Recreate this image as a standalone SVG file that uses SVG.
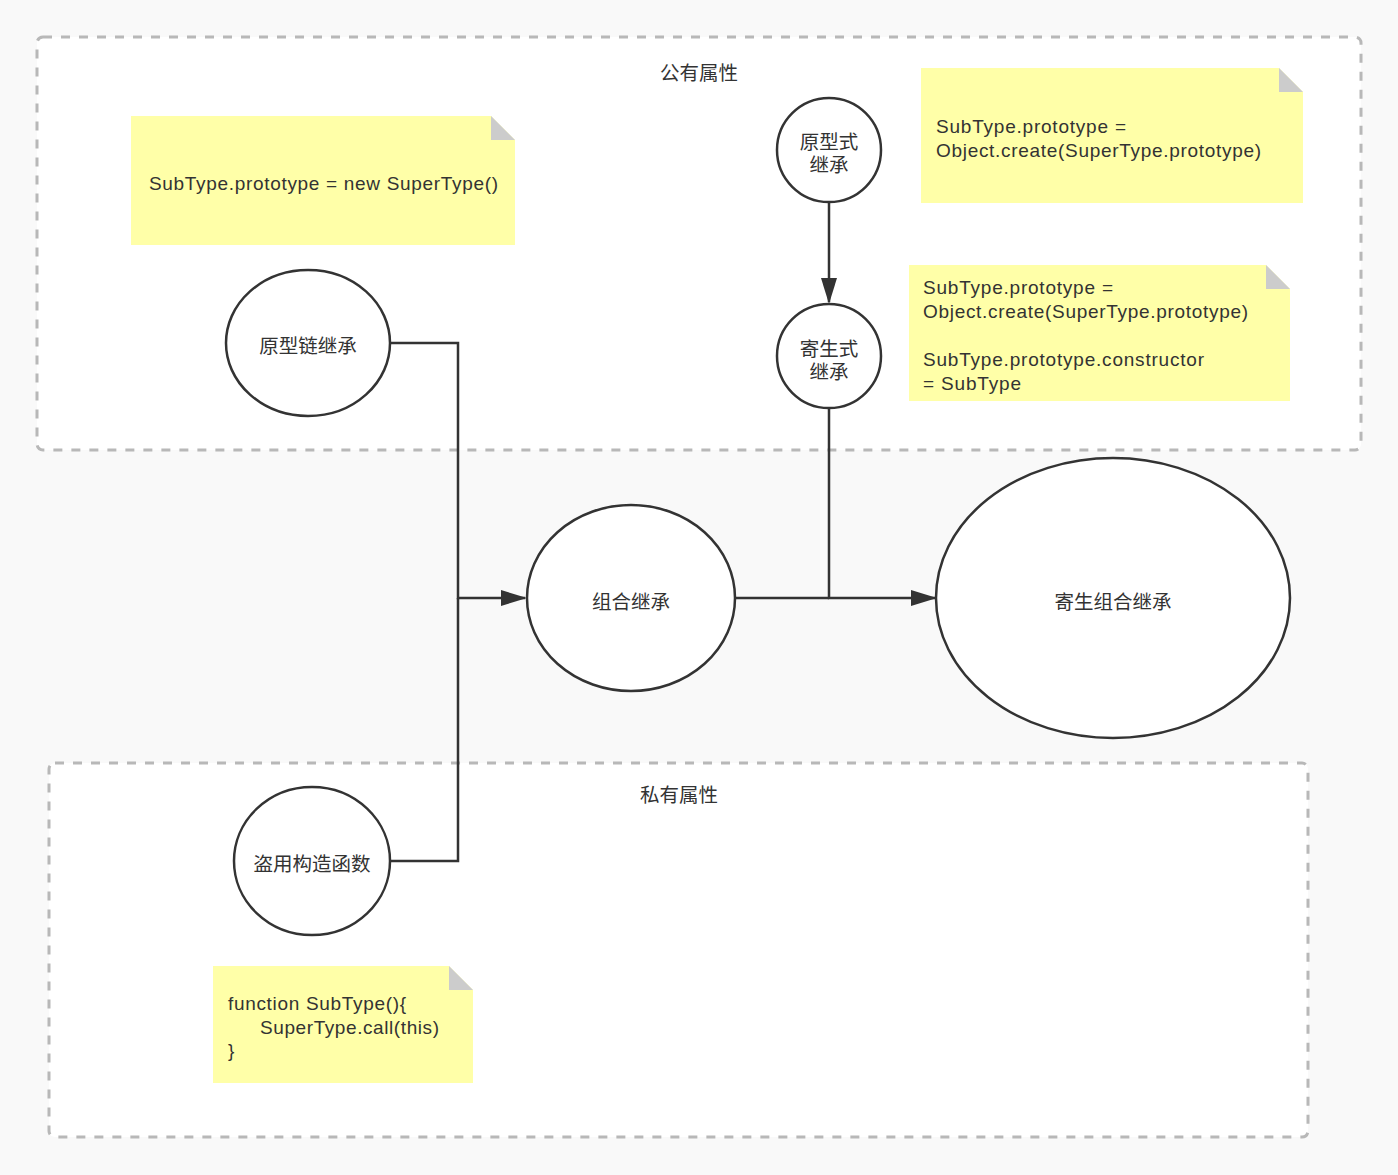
<svg xmlns="http://www.w3.org/2000/svg" width="1398" height="1175" viewBox="0 0 1398 1175">
<defs>
<style>
.cont{fill:#ffffff;stroke:#b8b8b8;stroke-width:3;stroke-dasharray:9 9}
.node{fill:#ffffff;stroke:#333333;stroke-width:2.5}
.note{fill:#ffffa8}
.fold{fill:#cccccc}
.lbl{font-family:"Noto Sans CJK SC","Liberation Sans",sans-serif;font-size:19.5px;fill:#333333;text-anchor:middle;dominant-baseline:central}
.nt{font-family:"Liberation Sans","Noto Sans CJK SC",sans-serif;font-size:19px;fill:#333333}
.edge{fill:none;stroke:#333333;stroke-width:2.5}
</style>
<marker id="arrL" markerWidth="26" markerHeight="16" refX="24" refY="8" orient="auto" markerUnits="userSpaceOnUse" viewBox="0 0 26 16">
<path d="M0,0 L26,8 L0,16 Z" fill="#333333"/>
</marker>
</defs>
<rect x="0" y="0" width="1398" height="1175" fill="#f9f9f9"/>

<g id="public-group">
<rect class="cont" x="37" y="37" width="1324" height="413" rx="6"/>
<text class="lbl" x="699" y="71">公有属性</text>
</g>
<g id="private-group">
<rect class="cont" x="49" y="763" width="1259" height="374" rx="6"/>
<text class="lbl" x="679" y="793">私有属性</text>
</g>

<g id="note-proto-chain">
<path class="note" d="M131,116 H491 L515,140 V245 H131 Z"/>
<path class="fold" d="M491,116 L515,140 H491 Z"/>
<text class="nt" x="149" y="190" textLength="349" lengthAdjust="spacing">SubType.prototype = new SuperType()</text>
</g>
<g id="note-prototypal">
<path class="note" d="M921,68 H1279 L1303,92 V203 H921 Z"/>
<path class="fold" d="M1279,68 L1303,92 H1279 Z"/>
<text class="nt" x="936" y="133" textLength="190" lengthAdjust="spacing">SubType.prototype =</text>
<text class="nt" x="936" y="157" textLength="325" lengthAdjust="spacing">Object.create(SuperType.prototype)</text>
</g>
<g id="note-parasitic">
<path class="note" d="M909,265 H1266 L1290,289 V401 H909 Z"/>
<path class="fold" d="M1266,265 L1290,289 H1266 Z"/>
<text class="nt" x="923" y="294" textLength="190" lengthAdjust="spacing">SubType.prototype =</text>
<text class="nt" x="923" y="318" textLength="325" lengthAdjust="spacing">Object.create(SuperType.prototype)</text>
<text class="nt" x="923" y="366" textLength="281" lengthAdjust="spacing">SubType.prototype.constructor</text>
<text class="nt" x="923" y="390" textLength="98" lengthAdjust="spacing">= SubType</text>
</g>
<g id="note-constructor">
<path class="note" d="M213,966 H449 L473,990 V1083 H213 Z"/>
<path class="fold" d="M449,966 L473,990 H449 Z"/>
<text class="nt" x="228" y="1010" textLength="178" lengthAdjust="spacing">function SubType(){</text>
<text class="nt" x="260" y="1034" textLength="179" lengthAdjust="spacing">SuperType.call(this)</text>
<text class="nt" x="228" y="1057">}</text>
</g>

<g id="connectors">
<path class="edge" d="M390,343 H458 V598 H525" marker-end="url(#arrL)"/>
<path class="edge" d="M390,861 H458 V598"/>
<path class="edge" d="M829,202 V302" marker-end="url(#arrL)"/>
<path class="edge" d="M829,408 V598 H935" marker-end="url(#arrL)"/>
<path class="edge" d="M735,598 H829"/>
</g>

<g id="node-proto-chain">
<ellipse class="node" cx="308" cy="343" rx="82" ry="73"/>
<text class="lbl" x="308" y="344">原型链继承</text>
</g>
<g id="node-prototypal">
<ellipse class="node" cx="829" cy="150" rx="52" ry="52"/>
<text class="lbl" x="829" y="140"><tspan x="829" y="140">原型式</tspan><tspan x="829" y="163">继承</tspan></text>
</g>
<g id="node-parasitic">
<ellipse class="node" cx="829" cy="356" rx="52" ry="52"/>
<text class="lbl" x="829" y="347"><tspan x="829" y="347">寄生式</tspan><tspan x="829" y="370">继承</tspan></text>
</g>
<g id="node-combination">
<ellipse class="node" cx="631" cy="598" rx="104" ry="93"/>
<text class="lbl" x="631" y="600">组合继承</text>
</g>
<g id="node-parasitic-combination">
<ellipse class="node" cx="1113" cy="598" rx="177" ry="140"/>
<text class="lbl" x="1113" y="600">寄生组合继承</text>
</g>
<g id="node-constructor-stealing">
<ellipse class="node" cx="312" cy="861" rx="78" ry="74"/>
<text class="lbl" x="312" y="862">盗用构造函数</text>
</g>
</svg>
